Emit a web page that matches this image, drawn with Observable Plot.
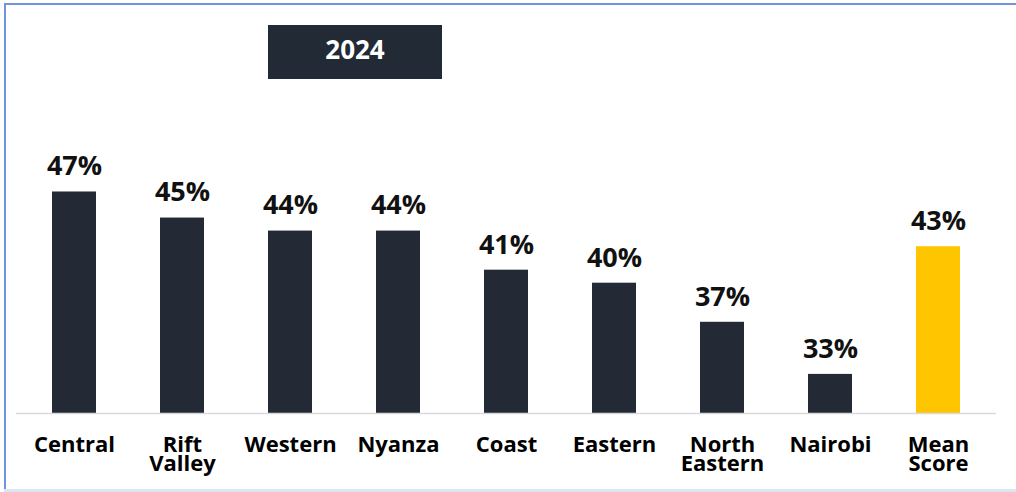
<!DOCTYPE html>
<html>
<head>
<meta charset="utf-8">
<script src="https://cdn.jsdelivr.net/npm/d3@7"></script>
<script src="https://cdn.jsdelivr.net/npm/@observablehq/plot@0.6"></script>
<style>
  html, body { margin: 0; padding: 0; background: #fff; }
  #wrap { position: relative; width: 1016px; height: 492px; overflow: hidden; font-family: "Open Sans", Lato, sans-serif; }
  #chart { position: absolute; left: 0; top: 0; }
  .bt { position: absolute; left: 4px; top: 3px; width: 1012px; height: 2px; background: #6f95dc; }
  .bl { position: absolute; left: 4px; top: 3px; width: 2px; height: 487px; background: #6f95dc; }
  .bb { position: absolute; left: 4px; top: 489px; width: 1012px; height: 3px; background: #dde6f3; }
  #title { position: absolute; left: 268px; top: 25px; width: 174px; height: 54px; background: #222a35;
           color: #fff; font-weight: 700; font-size: 26px; display: flex; align-items: center; justify-content: center;
           padding-bottom: 6px; box-sizing: border-box; }
</style>
</head>
<body>
<div id="wrap">
  <div id="chart"></div>
  <div class="bt"></div><div class="bl"></div><div class="bb"></div>
  <div id="title">2024</div>
</div>
<script>
const categories = ["Central", "Rift Valley", "Western", "Nyanza", "Coast", "Eastern", "North Eastern", "Nairobi", "Mean Score"];
const tickLabels = ["Central", "Rift\nValley", "Western", "Nyanza", "Coast", "Eastern", "North\nEastern", "Nairobi", "Mean\nScore"];
const values = [47, 45, 44, 44, 41, 40, 37, 33, 42.8];
const valueLabels = ["47%", "45%", "44%", "44%", "41%", "40%", "37%", "33%", "43%"];
const highlight = "Mean Score";

const data = categories.map((c, i) => ({ category: c, value: values[i], label: valueLabels[i] }));

const chart = Plot.plot({
  width: 1016,
  height: 492,
  marginLeft: 16,
  marginRight: 20,
  marginTop: 152.4,
  marginBottom: 79,
  style: { fontFamily: "'Open Sans', Lato, sans-serif", background: "transparent", color: "#000" },
  x: { domain: categories, paddingInner: 0.596, paddingOuter: 0.298, align: 0.5 },
  y: { domain: [30, 50], axis: null },
  marks: [
    Plot.barY(data, { x: "category", y1: 30, y2: "value", fill: d => d.category === highlight ? "#ffc600" : "#232a36" }),
    Plot.ruleY([30], { stroke: "#d9d9d9", strokeWidth: 1.5 }),
    Plot.text(data, { x: "category", y: "value", text: "label", dy: -25.3, fontSize: 27, fontWeight: 700, fill: "#111" }),
    Plot.axisX({ tickSize: 0, tickPadding: 24, fontSize: 22, fontWeight: 700, lineHeight: 0.9, label: null,
                 tickFormat: (d) => tickLabels[categories.indexOf(d)], fill: "#000" })
  ]
});
document.getElementById("chart").appendChild(chart);
</script>
</body>
</html>
